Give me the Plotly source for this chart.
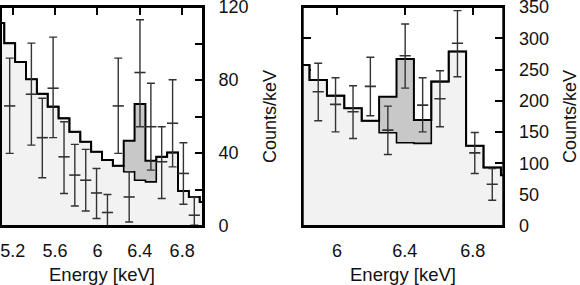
import plotly.graph_objects as go

# ---------------- data ----------------
bin_edges = [5.0185, 5.121, 5.2235, 5.326, 5.4285, 5.531, 5.6335, 5.736, 5.8385,
             5.941, 6.0435, 6.146, 6.2485, 6.351, 6.4535, 6.556, 6.6585, 6.761,
             6.8635, 6.966, 7.0685]

left_total = [111.2, 100.2, 89.8, 80.4, 72.4, 65.4, 59.0, 51.6, 46.2, 40.7,
              36.1, 33.0, 46.7, 66.9, 35.7, 37.9, 40.3, 19.2, 15.9, 13.2]
left_cont = [111.2, 100.2, 89.8, 80.4, 72.4, 65.4, 59.0, 51.6, 46.2, 40.7,
             36.1, 33.0, 29.7, 25.1, 24.2, 37.9, 40.3, 19.2, 15.9, 13.2]
left_x = [5.172, 5.377, 5.480, 5.582, 5.685, 5.787, 5.890, 5.992, 6.095, 6.197,
          6.300, 6.402, 6.505, 6.607, 6.710, 6.812, 6.915]
left_counts = [65.8, 72.2, 48.4, 75.5, 37.9, 27.9, 25.1, 18.1, 7.4, 65.8,
               15.9, 84.1, 54.4, 35.2, 56.3, 28.8, 5.9]
left_err_hi = [26.2, 28.0, 21.6, 28.0, 19.2, 16.8, 16.9, 13.4, 9.9, 26.2,
               13.8, 28.9, 23.8, 19.2, 23.8, 16.8, 10.0]
left_err_lo = [26.0, 27.9, 22.0, 27.1, 20.1, 16.9, 16.9, 14.0, 9.9, 26.0,
               13.7, 29.7, 23.8, 20.1, 23.9, 16.9, 5.5]

right_edges = bin_edges[7:]
right_total = [257.5, 233.5, 208.3, 188.1, 168.3, 206.7, 266.7, 169.4, 230.8,
               278.9, 128.2, 93.6, 81.2]
right_cont = [257.5, 233.5, 208.3, 188.1, 168.3, 149.0, 133.0, 132.0, 230.8,
              278.9, 128.2, 93.6, 81.2]
right_x = [5.890, 5.992, 6.095, 6.197, 6.300, 6.402, 6.505, 6.607, 6.710, 6.812, 6.915]
right_counts = [214.5, 194.4, 182.5, 223.2, 153.2, 272.2, 193.2, 203.3, 292.0, 116.9, 66.8]
right_err_hi = [45.5, 42.6, 41.7, 46.4, 38.4, 50.7, 43.8, 44.9, 52.2, 32.6, 25.1]
right_err_lo = [46.4, 43.9, 42.6, 47.1, 38.9, 51.8, 42.7, 44.8, 53.4, 33.0, 25.7]

left_xticks = [5.2, 5.6, 6.0, 6.4, 6.8]
left_xtext = ["5.2", "5.6", "6", "6.4", "6.8"]
left_yticks = [0, 20, 40, 60, 80, 100, 120]
left_ytext = ["0", "", "40", "", "80", "", "120"]
right_xticks = [6.0, 6.4, 6.8]
right_xtext = ["6", "6.4", "6.8"]
right_yticks = [0, 50, 100, 150, 200, 250, 300, 350]
right_ytext = ["0", "50", "100", "150", "200", "250", "300", "350"]

x_title = "Energy [keV]"
y_title = "Counts/keV"

# ---------------- figure ----------------
FONT = "Liberation Sans, Arial, Helvetica, sans-serif"
LIGHT = "#f2f2f2"
DARK = "#c8c8c8"
ERRC = "#333333"

fig = go.Figure()


def steps(edges, vals):
    return list(edges), list(vals) + [vals[-1]]


def add_panel(xa, ya, edges, total, cont, dx, dy, ehi, elo):
    sx, sy = steps(edges, total)
    fig.add_trace(go.Scatter(x=sx, y=sy, mode="lines", line_shape="hv",
                             line=dict(color="black", width=2), fill="tozeroy",
                             fillcolor=LIGHT, xaxis=xa, yaxis=ya,
                             hoverinfo="skip", showlegend=False))
    cx, cy = steps(edges, cont)
    fig.add_trace(go.Scatter(x=cx, y=cy, mode="lines", line_shape="hv",
                             line=dict(color="black", width=1.6), fill="tonexty",
                             fillcolor=DARK, xaxis=xa, yaxis=ya,
                             hoverinfo="skip", showlegend=False))
    fig.add_trace(go.Scatter(x=dx, y=dy, mode="markers",
                             marker=dict(symbol="line-ew", size=8,
                                         line=dict(color=ERRC, width=1.6)),
                             error_y=dict(type="data", array=ehi, arrayminus=elo,
                                          color=ERRC, thickness=1.4, width=4),
                             xaxis=xa, yaxis=ya, showlegend=False))


add_panel("x", "y", bin_edges, left_total, left_cont, left_x, left_counts,
          left_err_hi, left_err_lo)
add_panel("x2", "y2", right_edges, right_total, right_cont, right_x,
          right_counts, right_err_hi, right_err_lo)

W, H = 580, 285
ML, MR, MT, MB = 1, 0, 7, 59
PW = W - ML - MR


def dom(a, b):
    return [max(0.0, (a - ML) / PW), min(1.0, (b - ML) / PW)]


common_x = dict(showgrid=False, zeroline=False, ticks="inside", ticklen=8,
                tickwidth=1.6, tickcolor="black", showline=True, linecolor="black",
                linewidth=2, mirror="ticks", layer="below traces",
                tickfont=dict(family=FONT, size=18, color="#111"),
                title=dict(text=x_title, font=dict(family=FONT, size=18.5, color="#111"),
                           standoff=9),
                ticklabelstandoff=7, ticklabeloverflow="allow", automargin=False)
common_y = dict(showgrid=False, zeroline=False, ticks="inside", ticklen=8,
                tickwidth=1.6, tickcolor="black", showline=True, linecolor="black",
                linewidth=2, mirror="ticks", layer="below traces", side="right",
                tickfont=dict(family=FONT, size=18, color="#111"),
                title=dict(text=y_title, font=dict(family=FONT, size=18, color="#111"),
                           standoff=16),
                ticklabelstandoff=10, ticklabeloverflow="allow", automargin=False)

fig.update_layout(
    width=W, height=H, margin=dict(l=ML, r=MR, t=MT, b=MB),
    paper_bgcolor="white", plot_bgcolor="white", showlegend=False,
    xaxis=dict(common_x, domain=dom(1, 203), range=[5.09, 6.997],
               tickmode="array", tickvals=left_xticks, ticktext=left_xtext, anchor="y"),
    yaxis=dict(common_y, domain=[0, 1], range=[0, 120], tickmode="array",
               tickvals=left_yticks, ticktext=left_ytext, anchor="x"),
    xaxis2=dict(common_x, domain=dom(302.7, 503.3), range=[5.7985, 6.98],
                tickmode="array", tickvals=right_xticks, ticktext=right_xtext, anchor="y2"),
    yaxis2=dict(common_y, domain=[0, 1], range=[0, 350], tickmode="array",
                tickvals=right_yticks, ticktext=right_ytext, anchor="x2"),
)

for xr, yr in (("x", "y"), ("x2", "y2")):
    fig.add_shape(type="rect", xref=f"{xr} domain", yref=f"{yr} domain",
                  x0=0, x1=1, y0=0, y1=1, layer="above",
                  line=dict(color="black", width=2), fillcolor="rgba(0,0,0,0)")

fig.write_html("out.html", config={"displayModeBar": False},
               post_script="document.body.style.margin='0px';document.body.style.overflow='hidden';")
